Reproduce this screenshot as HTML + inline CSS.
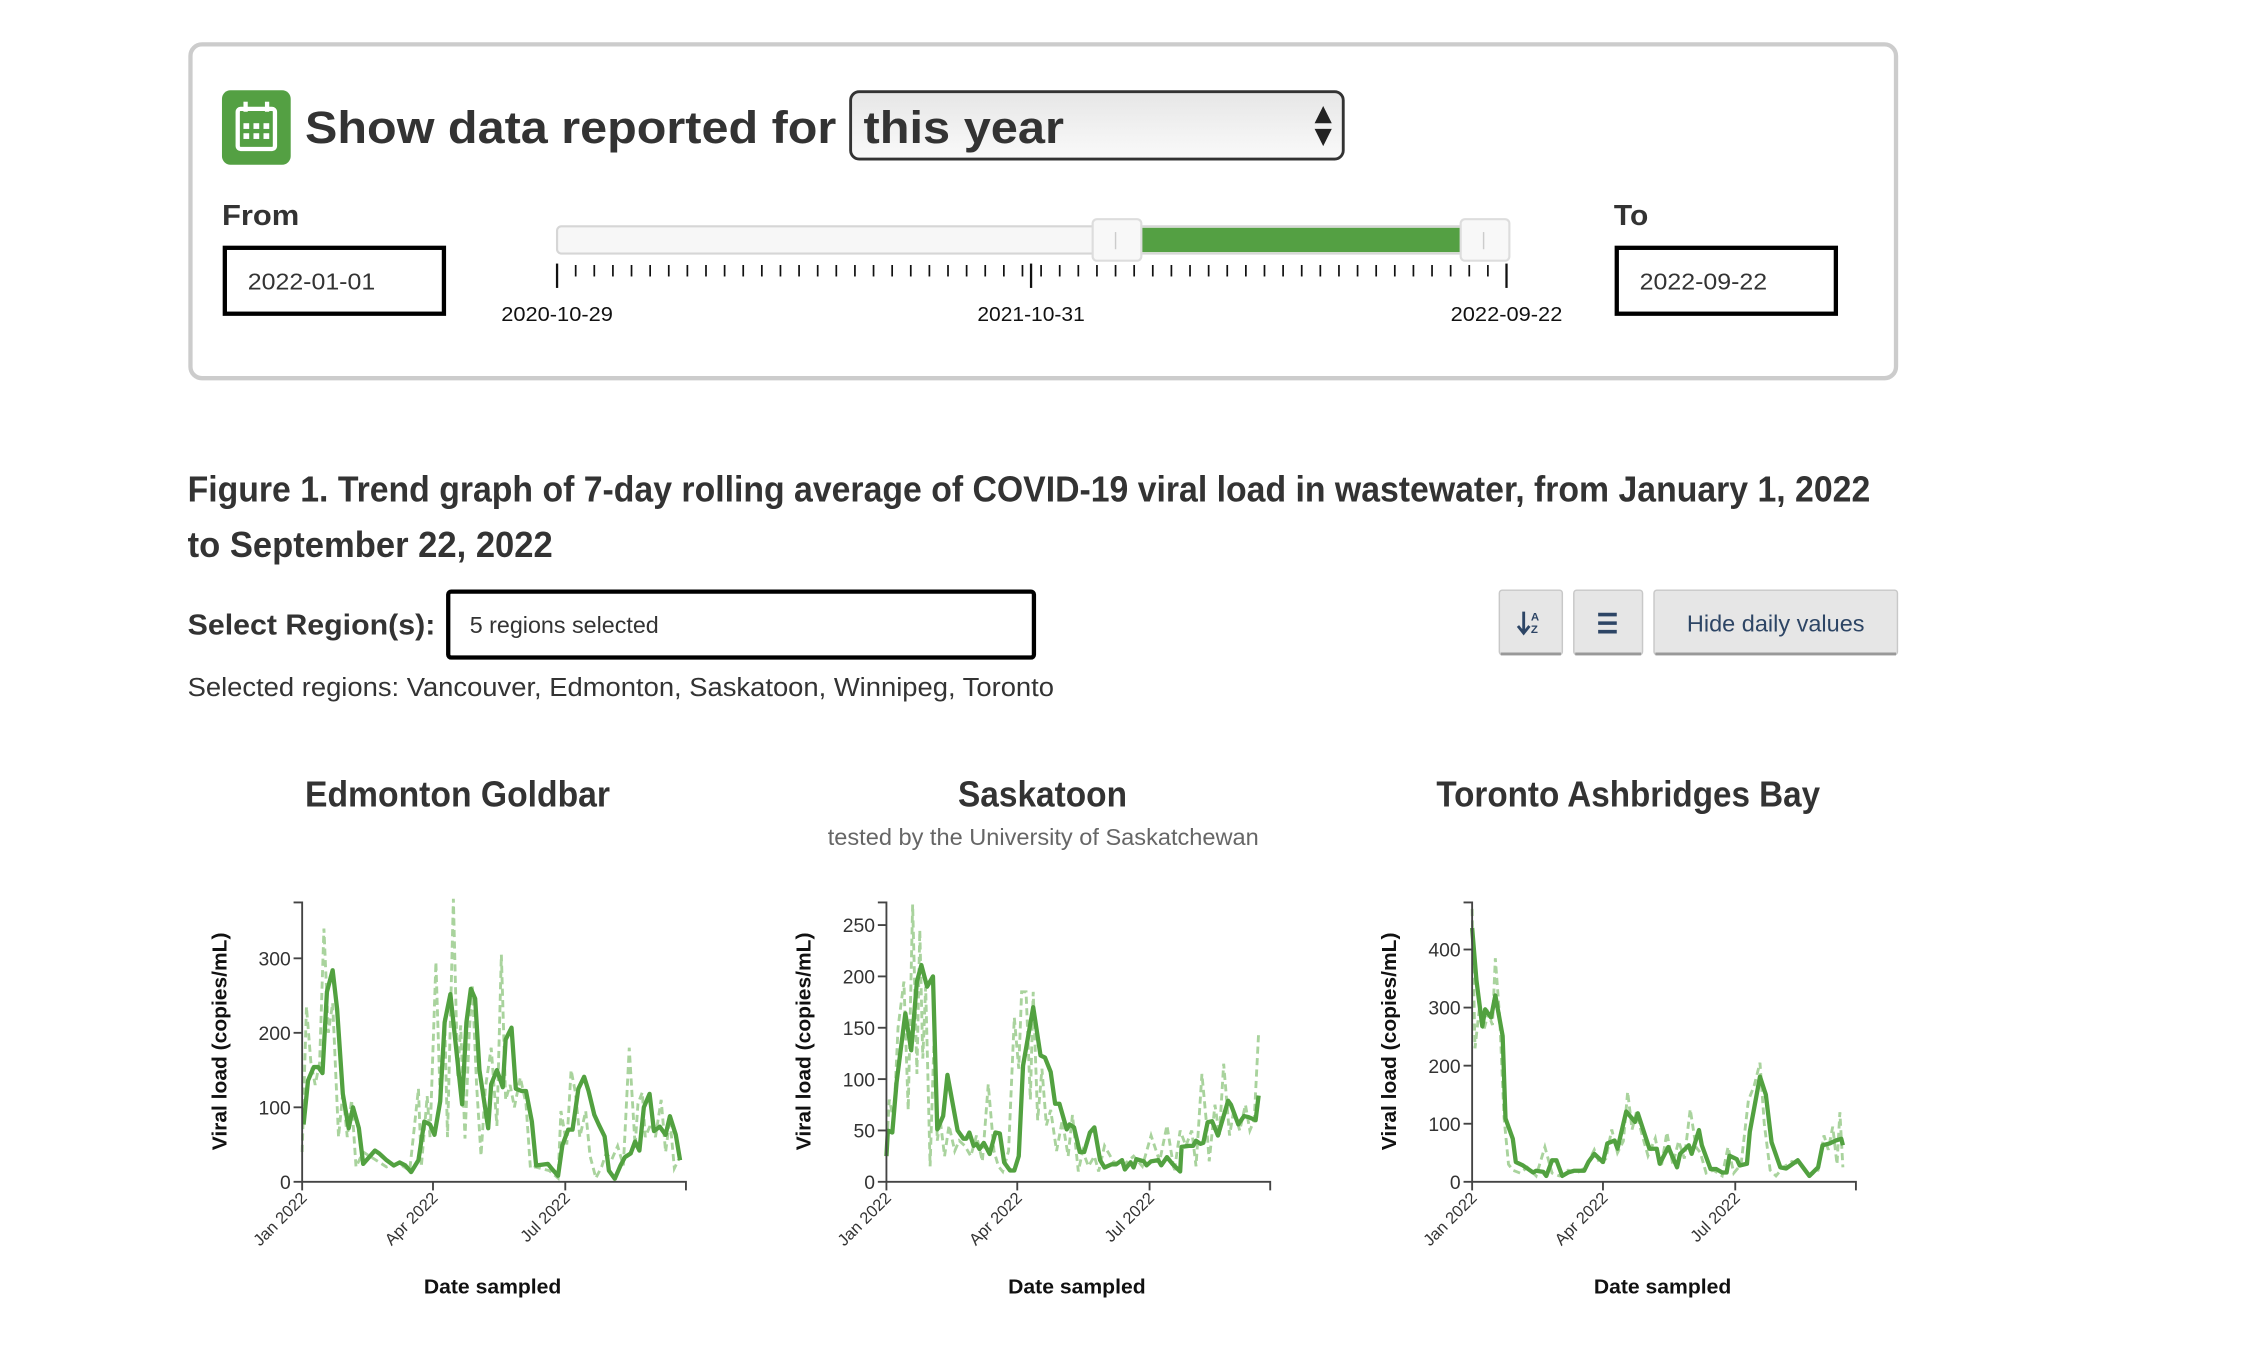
<!DOCTYPE html>
<html><head><meta charset="utf-8"><style>
html,body{margin:0;padding:0;background:#fff;overflow:hidden}
svg{display:block;font-family:"Liberation Sans",sans-serif}
</style></head><body>
<svg id="page" width="2244" height="1358" viewBox="0 0 1567 948" preserveAspectRatio="none" xmlns="http://www.w3.org/2000/svg">
<defs>
<linearGradient id="selg" x1="0" y1="0" x2="0" y2="1"><stop offset="0" stop-color="#e6e6e6"/><stop offset="1" stop-color="#fafafa"/></linearGradient>
</defs>
<g>
<rect x="133" y="31" width="1191" height="233" rx="8" fill="#fff" stroke="#cccccc" stroke-width="3"/>
<g>
<rect x="155" y="63" width="48" height="52" rx="6" fill="#54a043"/>
<rect x="166" y="76" width="26" height="28" rx="2" fill="none" stroke="#fff" stroke-width="3"/>
<rect x="170" y="71" width="3" height="7" fill="#fff"/><rect x="185" y="71" width="3" height="7" fill="#fff"/>
<rect x="170" y="86" width="4" height="4" fill="#fff"/><rect x="177" y="86" width="4" height="4" fill="#fff"/><rect x="184" y="86" width="4" height="4" fill="#fff"/>
<rect x="170" y="93" width="4" height="4" fill="#fff"/><rect x="177" y="93" width="4" height="4" fill="#fff"/><rect x="184" y="93" width="4" height="4" fill="#fff"/>
</g>
<text x="213" y="100" font-size="32" font-weight="bold" fill="#333" textLength="371" lengthAdjust="spacingAndGlyphs">Show data reported for</text>
<g>
<rect x="594" y="64" width="344" height="47" rx="6" fill="url(#selg)" stroke="#333" stroke-width="2"/>
<text x="603" y="100" font-size="32" font-weight="bold" fill="#333" textLength="140" lengthAdjust="spacingAndGlyphs">this year</text>
<path d="M918 86 L924 74 L930 86 Z M918 90 L930 90 L924 102 Z" fill="#222"/>
</g>
<text x="155" y="157" font-size="20" font-weight="bold" fill="#333" textLength="54" lengthAdjust="spacingAndGlyphs">From</text>
<g>
<rect x="157" y="173" width="153" height="46" fill="#fff" stroke="#000" stroke-width="3"/>
<text x="173" y="202" font-size="16" fill="#333" textLength="89" lengthAdjust="spacingAndGlyphs">2022-01-01</text>
</g>
<text x="1127" y="157" font-size="20" font-weight="bold" fill="#333" textLength="24" lengthAdjust="spacingAndGlyphs">To</text>
<g>
<rect x="1129" y="173" width="153" height="46" fill="#fff" stroke="#000" stroke-width="3"/>
<text x="1145" y="202" font-size="16" fill="#333" textLength="89" lengthAdjust="spacingAndGlyphs">2022-09-22</text>
</g>
<g>
<rect x="389" y="158" width="663" height="19" rx="3" fill="#f7f7f7" stroke="#d6d6d6" stroke-width="1.5"/>
<rect x="797" y="159" width="223" height="17" fill="#54a043"/>
<g id="ticks"></g>
<text x="389" y="224" font-size="14" fill="#111" text-anchor="middle" textLength="78" lengthAdjust="spacingAndGlyphs">2020-10-29</text>
<text x="720" y="224" font-size="14" fill="#111" text-anchor="middle" textLength="75" lengthAdjust="spacingAndGlyphs">2021-10-31</text>
<text x="1052" y="224" font-size="14" fill="#111" text-anchor="middle" textLength="78" lengthAdjust="spacingAndGlyphs">2022-09-22</text>
</g>
<g><rect x="763" y="153" width="34" height="29" rx="3" fill="#f8f8f8" stroke="#ddd" stroke-width="1.5"/><line x1="779" y1="162" x2="779" y2="174" stroke="#ccc"/></g>
<g><rect x="1020" y="153" width="34" height="29" rx="3" fill="#f8f8f8" stroke="#ddd" stroke-width="1.5"/><line x1="1036" y1="162" x2="1036" y2="174" stroke="#ccc"/></g>
</g>
<text font-size="25" font-weight="bold" fill="#333"><tspan x="131" y="350" textLength="1175" lengthAdjust="spacingAndGlyphs">Figure 1. Trend graph of 7-day rolling average of COVID-19 viral load in wastewater, from January 1, 2022</tspan><tspan x="131" y="389" textLength="255" lengthAdjust="spacingAndGlyphs">to September 22, 2022</tspan></text>
<text x="131" y="443" font-size="20" font-weight="bold" fill="#333" textLength="173" lengthAdjust="spacingAndGlyphs">Select Region(s):</text>
<g>
<rect x="313" y="413" width="409" height="46" rx="2" fill="#fff" stroke="#000" stroke-width="3"/>
<text x="328" y="442" font-size="16" fill="#333" textLength="132" lengthAdjust="spacingAndGlyphs">5 regions selected</text>
</g>
<g>
<rect x="1047" y="412" width="44" height="45" rx="2" fill="#e6e6e6" stroke="#c8c8c8"/><line x1="1048" y1="456.5" x2="1090" y2="456.5" stroke="#999" stroke-width="2"/>
<path d="M1064 427 v14 M1060 437 l4 5 l4 -5" stroke="#2d4565" stroke-width="2" fill="none"/>
<text x="1069" y="433" font-size="8" font-weight="bold" fill="#2d4565">A</text><text x="1069" y="442" font-size="8" font-weight="bold" fill="#2d4565">Z</text>
</g>
<g>
<rect x="1099" y="412" width="48" height="45" rx="2" fill="#e6e6e6" stroke="#c8c8c8"/><line x1="1100" y1="456.5" x2="1146" y2="456.5" stroke="#999" stroke-width="2"/>
<path d="M1116 429 h13 M1116 435 h13 M1116 441 h13" stroke="#2d4565" stroke-width="2.5"/>
</g>
<g>
<rect x="1155" y="412" width="170" height="45" rx="2" fill="#e6e6e6" stroke="#c8c8c8"/><line x1="1156" y1="456.5" x2="1324" y2="456.5" stroke="#999" stroke-width="2"/>
<text x="1178" y="441" font-size="16" fill="#2d4565" textLength="124" lengthAdjust="spacingAndGlyphs">Hide daily values</text>
</g>
<text x="131" y="486" font-size="18" fill="#333" textLength="605" lengthAdjust="spacingAndGlyphs">Selected regions: Vancouver, Edmonton, Saskatoon, Winnipeg, Toronto</text>
<text x="213" y="563" font-size="25" font-weight="bold" fill="#333" textLength="213" lengthAdjust="spacingAndGlyphs">Edmonton Goldbar</text>
<text x="669" y="563" font-size="25" font-weight="bold" fill="#333" textLength="118" lengthAdjust="spacingAndGlyphs">Saskatoon</text>
<text x="578" y="590" font-size="16" fill="#666" textLength="301" lengthAdjust="spacingAndGlyphs">tested by the University of Saskatchewan</text>
<text x="1003" y="563" font-size="25" font-weight="bold" fill="#333" textLength="268" lengthAdjust="spacingAndGlyphs">Toronto Ashbridges Bay</text>
<g id="charts"></g>
</svg>
<script>
// ---- Chart data (day index from 2022-01-01, value copies/mL) ----
const xTickLabels = ["Jan 2022","Apr 2022","Jul 2022"];
const xTickDays = [0, 90, 181];
const domainDays = 264;

const edmDays = [1,4,8,11,14,17,21,24,28,32,35,39,42,50,53,58,63,67,71,75,80,84,88,91,95,98,102,105,110,113,116,119,122,128,130,134,138,140,144,147,151,154,158,161,169,172,176,179,183,186,190,194,197,201,204,208,211,215,219,222,226,229,232,235,239,242,246,250,253,257,260];
const edmAvg = [77,136,154,154,146,255,284,232,118,72,100,72,24,42,38,29,22,26,22,13,29,81,77,63,108,214,252,196,104,214,259,246,150,72,131,150,127,191,207,125,122,122,81,22,24,17,8,49,70,70,125,141,122,90,77,61,15,4,22,33,38,54,42,100,118,68,74,63,88,63,29];
const edmDailyDays = [0,3,6,9,12,15,18,21,25,28,31,34,37,42,50,58,66,74,80,82,86,88,92,95,98,100,104,107,109,112,115,117,120,123,126,130,134,137,140,143,146,150,154,157,160,170,176,178,182,185,188,191,195,198,202,206,209,213,217,221,225,229,231,234,236,240,243,247,250,253,256,259];
const edmDaily = [40,235,160,130,160,340,200,240,60,120,60,110,20,40,30,20,25,15,125,20,115,60,295,110,220,60,380,140,210,58,200,265,130,35,125,180,75,305,110,130,100,140,105,18,20,15,5,95,50,150,120,60,95,35,5,20,38,30,48,22,180,48,105,120,60,78,60,110,40,85,18,30];

const sasDays = [0,1,4,7,13,17,21,24,28,32,35,39,42,49,53,55,57,60,62,64,67,71,75,78,81,85,88,91,94,101,106,109,113,116,119,124,126,129,133,136,140,143,147,150,155,158,162,164,168,170,172,177,179,182,187,189,193,197,202,203,208,211,213,216,218,221,224,228,235,237,242,246,249,254,256];
const sasAvg = [25,50,48,97,164,128,195,211,190,200,51,64,104,50,42,42,48,35,37,32,38,27,48,47,19,11,11,25,113,170,123,121,107,76,76,51,56,53,29,29,48,53,21,14,17,17,21,12,19,14,22,20,16,20,21,16,24,17,10,34,35,35,40,37,38,58,59,45,79,75,56,64,63,60,84];
const sasDailyDays = [0,2,5,8,12,15,18,21,23,25,27,30,33,35,37,40,43,47,50,54,58,62,66,70,74,77,80,84,88,91,93,96,99,101,104,107,110,113,117,121,125,128,132,135,139,143,146,150,156,162,170,176,182,188,193,198,202,206,210,213,217,220,222,226,229,232,236,239,243,247,250,253,256];
const sasDaily = [30,80,60,150,195,70,270,105,245,120,190,15,150,40,60,25,55,30,40,35,25,45,20,95,30,15,10,30,160,110,185,185,80,185,60,110,55,70,30,60,25,65,10,30,15,25,10,35,20,15,25,15,45,20,55,10,50,35,50,15,105,60,20,75,45,115,45,70,50,75,50,60,145];

const torDays = [0,3,7,9,13,16,21,23,28,30,35,42,44,49,51,55,58,62,66,70,77,80,84,90,93,98,100,106,112,114,122,127,129,135,141,143,149,151,156,158,164,168,172,175,177,182,184,189,191,198,202,206,212,216,224,232,238,241,246,250,254,255];
const torAvg = [437,347,268,297,283,321,251,109,74,34,28,16,19,17,10,37,37,10,16,19,19,34,48,34,66,71,57,121,103,118,57,57,31,60,25,48,63,48,89,63,22,22,16,16,45,39,28,31,86,181,150,68,25,23,37,10,25,63,66,71,74,63];
const torDailyDays = [0,2,5,8,11,14,16,19,22,25,28,33,38,44,50,55,60,66,72,78,84,88,92,96,100,104,107,110,113,117,121,126,130,134,138,142,146,150,154,157,161,166,172,176,180,185,190,194,198,201,205,209,214,220,226,232,238,242,245,248,251,253,255];
const torDaily = [470,230,300,260,290,270,385,280,110,30,20,15,25,10,60,15,10,20,15,25,55,30,40,90,50,70,155,90,120,80,45,75,25,85,30,70,40,125,60,50,15,20,10,60,15,30,140,165,205,100,20,10,25,35,30,10,20,80,55,95,30,120,25];

const charts = [
 {id:"edmonton", x0:211, ymax:375, yTicks:[0,100,200,300], days:edmDays, avg:edmAvg, dDays:edmDailyDays, daily:edmDaily},
 {id:"saskatoon", x0:619, ymax:272, yTicks:[0,50,100,150,200,250], days:sasDays, avg:sasAvg, dDays:sasDailyDays, daily:sasDaily},
 {id:"toronto", x0:1028, ymax:481, yTicks:[0,100,200,300,400], days:torDays, avg:torAvg, dDays:torDailyDays, daily:torDaily}
];
const NS="http://www.w3.org/2000/svg";
function mk(tag, attrs, parent){const e=document.createElementNS(NS,tag);for(const k in attrs)e.setAttribute(k,attrs[k]);parent.appendChild(e);return e;}

const tg=document.getElementById('ticks');
for(let i=0;i<=51;i++){
  const x=389+i*(663/51);
  const major=(i===0||i===51);
  const t=mk('line',{x1:x,x2:x,y1:major?184:185,y2:major?201:193,stroke:'#111','stroke-width':major?1.6:1.2},tg);
  
  
}
{const t=mk('line',{x1:720,x2:720,y1:184,y2:201,stroke:'#111','stroke-width':1.6},tg);
 
 }

const root=document.getElementById('charts');
const W=268, yB=825, yT=630;
charts.forEach(c=>{
  const g=mk('g',{},root);
  
  
  const X=d=>c.x0+d/domainDays*W;
  const Y=v=>yB-v/c.ymax*(yB-yT);
  const dp=c.dDays.map((d,i)=>(i?'L':'M')+X(d).toFixed(1)+' '+Y(c.daily[i]).toFixed(1)).join(' ');
  const dl=mk('path',{d:dp,fill:'none',stroke:'#a9d39d','stroke-width':2,'stroke-dasharray':'5,3'},g);
  
  
  const ap=c.days.map((d,i)=>(i?'L':'M')+X(d).toFixed(1)+' '+Y(c.avg[i]).toFixed(1)).join(' ');
  const al=mk('path',{d:ap,fill:'none',stroke:'#52a140','stroke-width':3,'stroke-linejoin':'round'},g);
  
  
  const ya=mk('path',{d:`M${c.x0-6} ${yT} H${c.x0} V${yB} H${c.x0+W} V${yB+6}`,fill:'none',stroke:'#444','stroke-width':1.3},g);
  
  
  c.yTicks.forEach(v=>{
    mk('line',{x1:c.x0-6,x2:c.x0,y1:Y(v),y2:Y(v),stroke:'#444','stroke-width':1.3},g);
    const t=mk('text',{x:c.x0-8,y:Y(v)+5,'font-size':13.5,fill:'#333','text-anchor':'end'},g);
    t.textContent=v;
    
    
  });
  xTickDays.forEach((d,i)=>{
    const x=X(d);
    mk('line',{x1:x,x2:x,y1:yB,y2:yB+6,stroke:'#444','stroke-width':1.3},g);
    const t=mk('text',{x:x+4,y:yB+12,'font-size':11.5,fill:'#333','text-anchor':'end',transform:`rotate(-45 ${x+4} ${yB+12})`},g);
    t.textContent=xTickLabels[i];
    
    
  });
  const yt=mk('text',{x:0,y:0,'font-size':14,'font-weight':'bold',fill:'#111','text-anchor':'middle',transform:`translate(${c.x0-53} 727) rotate(-90)`,textLength:152,lengthAdjust:'spacingAndGlyphs'},g);
  yt.textContent='Viral load (copies/mL)';
  
  
  const xt=mk('text',{x:c.x0+133,y:903,'font-size':14,'font-weight':'bold',fill:'#111','text-anchor':'middle',textLength:96,lengthAdjust:'spacingAndGlyphs'},g);
  xt.textContent='Date sampled';
  
  
});
</script>
</body></html>
